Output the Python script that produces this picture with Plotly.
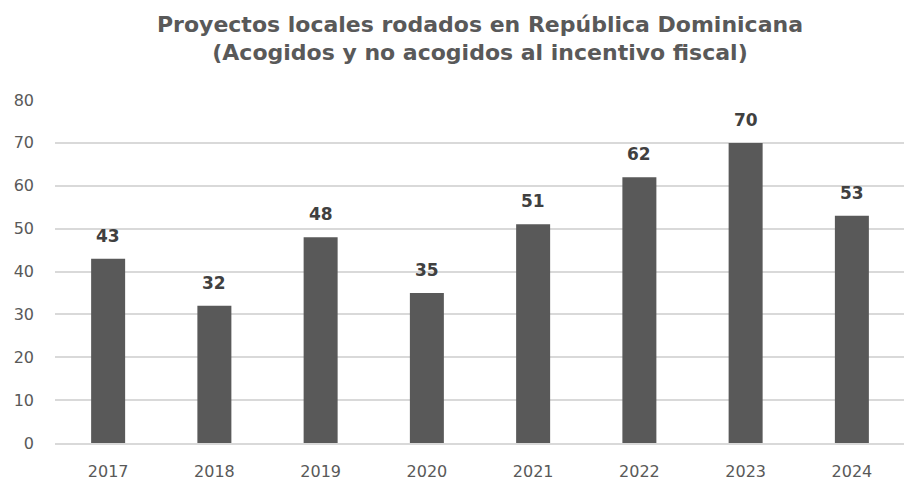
import plotly.graph_objects as go

years = ["2017", "2018", "2019", "2020", "2021", "2022", "2023", "2024"]
projects = [43, 32, 48, 35, 51, 62, 70, 53]
y_ticks = [0, 10, 20, 30, 40, 50, 60, 70, 80]

FONT = "DejaVu Sans, sans-serif"

fig = go.Figure(go.Bar(
    x=years, y=projects,
    marker=dict(color="#595959", line=dict(width=0)),
    hoverinfo="x+y",
))

# category axis: annotation x given as category index
for i, v in enumerate(projects):
    fig.add_annotation(
        x=i, y=v, xref="x", yref="y", text=str(v), showarrow=False,
        yanchor="bottom", yshift=11,
        font=dict(family=FONT, size=17, color="#404040", weight="bold"),
    )

fig.update_layout(
    width=904, height=473,
    margin=dict(l=47, r=7, t=92, b=38),
    paper_bgcolor="white", plot_bgcolor="white",
    bargap=0.68,
    showlegend=False,
    title=dict(
        text="Proyectos locales rodados en República Dominicana<br>(Acogidos y no acogidos al incentivo fiscal)",
        x=0.5, xanchor="center", xref="paper", y=0.95, yanchor="top",
        font=dict(family=FONT, size=22, color="#595959", weight="bold"),
    ),
    xaxis=dict(
        type="category", automargin=False,
        tickfont=dict(family=FONT, size=16, color="#595959"),
        showgrid=False, showline=True, linecolor="#d9d9d9", linewidth=1.5,
        ticks="", ticklabelstandoff=13,
    ),
    yaxis=dict(
        range=[0, 80], tickvals=y_ticks, automargin=False,
        tickfont=dict(family=FONT, size=16, color="#595959"),
        showgrid=True, gridcolor="#d9d9d9", gridwidth=1.5,
        zeroline=False, showline=False, ticks="",
        ticklabelstandoff=20,
    ),
)

fig.write_html("out.html")
